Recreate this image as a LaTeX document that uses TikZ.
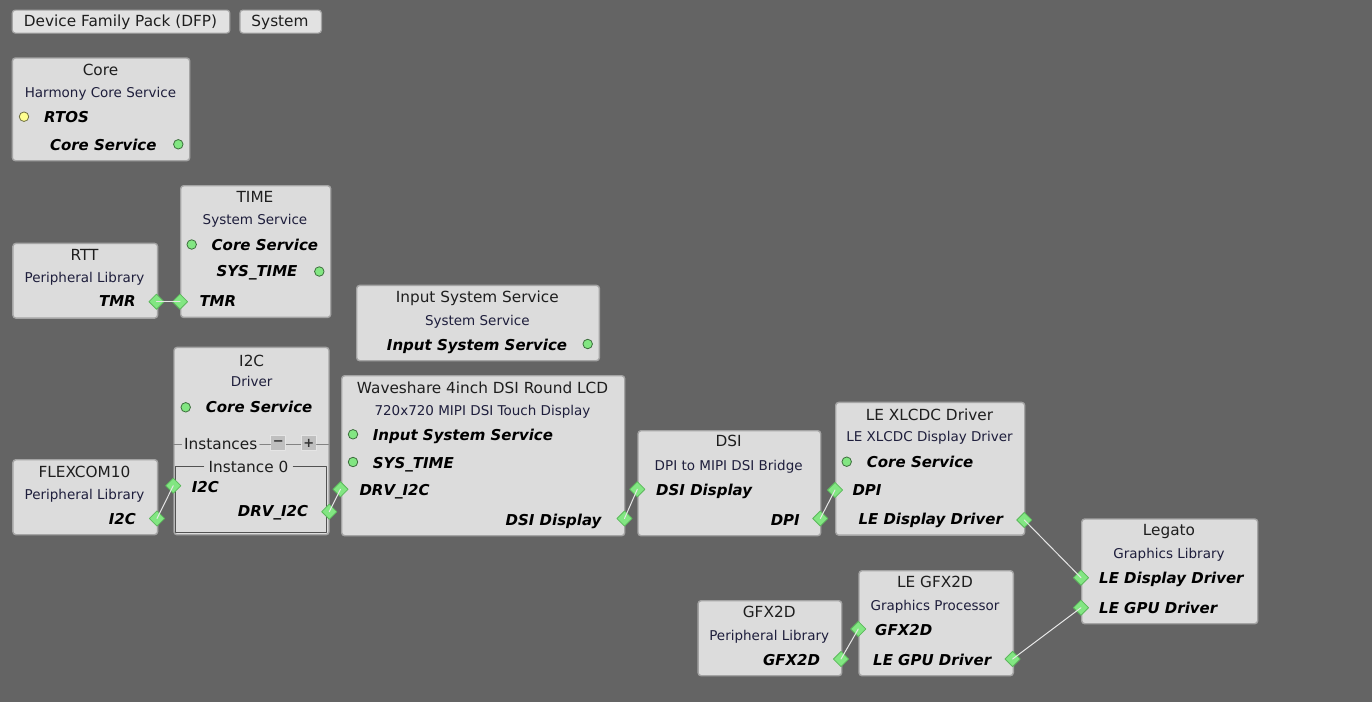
\documentclass[tikz,border=0pt]{standalone}
\usepackage{fontspec}
\setmainfont{DejaVu Sans}[BoldFont={DejaVu Sans Bold},ItalicFont={DejaVu Sans Oblique},BoldItalicFont={DejaVu Sans Bold Oblique}]
\usetikzlibrary{shapes.geometric}
\definecolor{bgcol}{HTML}{646464}
\definecolor{boxfill}{HTML}{DCDCDC}
\definecolor{boxline}{HTML}{A4A4A4}
\definecolor{btnfill}{HTML}{E2E2E2}
\definecolor{portgreen}{HTML}{82E682}
\definecolor{portedge}{HTML}{5CB85C}
\definecolor{svcedge}{HTML}{3C6E3C}
\definecolor{reqyellow}{HTML}{FFFF90}
\definecolor{reqedge}{HTML}{707040}
\definecolor{linkcol}{HTML}{E6E6E6}
\definecolor{titlecol}{HTML}{1E1E1E}
\definecolor{subcol}{HTML}{1E1E3C}
\tikzset{
	comp/.style={draw=boxline,fill=boxfill,line width=1.4pt,rounded corners=3pt,anchor=north west,inner sep=0pt},
	btn/.style={draw=boxline,fill=btnfill,line width=1.2pt,rounded corners=3pt,anchor=north west,inner sep=0pt},
	ttl/.style={font=\fontsize{15.3}{18}\selectfont,text=titlecol,inner sep=0pt,anchor=base},
	sub/.style={font=\fontsize{13.5}{16}\selectfont,text=subcol,inner sep=0pt,anchor=base},
	lbl/.style={font=\fontsize{15}{18}\selectfont\bfseries\itshape,text=black,inner sep=0pt},
	dep/.style={diamond,fill=portgreen,draw=portedge,line width=0.8pt,inner sep=0pt,minimum size=15.5pt},
	svc/.style={circle,fill=portgreen,draw=svcedge,line width=0.8pt,inner sep=0pt,minimum size=9.5pt},
	req/.style={circle,fill=reqyellow,draw=reqedge,line width=0.8pt,inner sep=0pt,minimum size=9.5pt},
	link/.style={draw=linkcol,line width=1pt},
	sepline/.style={draw=boxline!80!black,line width=1pt},
	tinybtn/.style={draw=white!90!black,fill=boxline!70!white,line width=1pt,inner sep=0pt,minimum size=15pt,font=\fontsize{13}{13}\selectfont\bfseries,text=black!80}
}
\begin{document}
\begin{tikzpicture}[line cap=round,line join=round,x=1pt,y=-1pt]
	\fill[bgcol] (0,0) rectangle (1372,702);
	\useasboundingbox (0,0) rectangle (1372,702);
	% tool bar
	\node[btn,minimum width=217.5pt,minimum height=23pt] (dfp) at (11.7,9.5) {};
	\node[ttl] at (120.5,26.7) {Device Family Pack (DFP)};
	\node[btn,minimum width=81.5pt,minimum height=23pt] (sys) at (239.3,9.5) {};
	\node[ttl] at (280,26.7) {System};
	% Core
	\node[comp,minimum width=177.3pt,minimum height=102.7pt] (core) at (11.7,57.3) {};
	\node[ttl] (core-t) at (100.5,75) {Core};
	\node[sub] (core-s) at (100.5,97.5) {Harmony Core Service};
	\node[req] (core-rtos-p) at (24,116.7) {};
	\node[lbl,anchor=base west] (core-rtos) at (44,122.3) {RTOS};
	\node[lbl,anchor=base east] (core-cs) at (156.7,150) {Core Service};
	\node[svc] (core-cs-p) at (178.3,144.3) {};
	% TIME
	\node[comp,minimum width=150pt,minimum height=131.7pt] (time) at (180,185) {};
	\node[ttl] (time-t) at (255,202.5) {TIME};
	\node[sub] (time-s) at (255,224.5) {System Service};
	\node[svc] (time-cs-p) at (191.7,244.5) {};
	\node[lbl,anchor=base west] (time-cs) at (211.5,250) {Core Service};
	\node[lbl,anchor=base east] (time-st) at (297.7,276.7) {SYS\_TIME};
	\node[svc] (time-st-p) at (319.3,271.5) {};
	\node[lbl,anchor=base west] (time-tmr) at (199.3,306.7) {TMR};
	% RTT
	\node[comp,minimum width=144.7pt,minimum height=74.7pt] (rtt) at (12.2,242.7) {};
	\node[ttl] (rtt-t) at (84.5,260) {RTT};
	\node[sub] (rtt-s) at (84.5,282.3) {Peripheral Library};
	\node[lbl,anchor=base east] (rtt-tmr) at (136,306.7) {TMR};
	% Input System Service
	\node[comp,minimum width=242.7pt,minimum height=75.3pt] (inp) at (356,284.7) {};
	\node[ttl] (inp-t) at (477.3,302.7) {Input System Service};
	\node[sub] (inp-s) at (477.3,325) {System Service};
	\node[lbl,anchor=base east] (inp-is) at (567.3,350) {Input System Service};
	\node[svc] (inp-is-p) at (587.7,344) {};
	% I2C driver
	\node[comp,minimum width=155pt,minimum height=187.3pt] (i2c) at (173.3,346.7) {};
	\node[ttl] (i2c-t) at (251.7,366) {I2C};
	\node[sub] (i2c-s) at (251.7,386.7) {Driver};
	\node[svc] (i2c-cs-p) at (185.7,407.3) {};
	\node[lbl,anchor=base west] (i2c-cs) at (205.7,412.7) {Core Service};
	\node[ttl,anchor=base west,inner xsep=2.5pt] (i2c-inst) at (181.5,449) {Instances};
	\node[tinybtn] (i2c-minus) at (278.3,443) {−};
	\node[tinybtn] (i2c-plus) at (308.7,443) {+};
	\draw[sepline] (173.3,444) -- (i2c-inst.west |- 0,444);
	\draw[sepline] (i2c-inst.east |- 0,444) -- (i2c-minus.west |- 0,444);
	\draw[sepline] (i2c-minus.east |- 0,444) -- (i2c-plus.west |- 0,444);
	\draw[sepline] (i2c-plus.east |- 0,444) -- (328.3,444);
	\node[ttl,inner xsep=5pt] (i2c-i0) at (248.5,472.3) {Instance 0};
	\draw[draw=black!68,line width=1.3pt] (i2c-i0.west |- 0,466.7) -- (175.7,466.7) -- (175.7,532.7) -- (326.7,532.7) -- (326.7,466.7) -- (i2c-i0.east |- 0,466.7);
	\node[lbl,anchor=base west] (i2c-i2c) at (191.7,492.3) {I2C};
	\node[lbl,anchor=base east] (i2c-drv) at (308.3,516.7) {DRV\_I2C};
	% FLEXCOM10
	\node[comp,minimum width=144.7pt,minimum height=75pt] (flx) at (12.2,459) {};
	\node[ttl] (flx-t) at (84.5,477) {FLEXCOM10};
	\node[sub] (flx-s) at (84.5,499.5) {Peripheral Library};
	\node[lbl,anchor=base east] (flx-i2c) at (136,524) {I2C};
	% Waveshare display
	\node[comp,minimum width=283pt,minimum height=160pt] (lcd) at (341,375) {};
	\node[ttl] (lcd-t) at (482.5,393.3) {Waveshare 4inch DSI Round LCD};
	\node[sub] (lcd-s) at (482.5,415) {720x720 MIPI DSI Touch Display};
	\node[svc] (lcd-is-p) at (353,434.3) {};
	\node[lbl,anchor=base west] (lcd-is) at (372.7,440.7) {Input System Service};
	\node[svc] (lcd-st-p) at (353,462) {};
	\node[lbl,anchor=base west] (lcd-st) at (372.7,468.3) {SYS\_TIME};
	\node[lbl,anchor=base west] (lcd-drv) at (359.3,495) {DRV\_I2C};
	\node[lbl,anchor=base east] (lcd-dsi) at (601.7,525) {DSI Display};
	% DSI bridge
	\node[comp,minimum width=182.7pt,minimum height=105pt] (dsi) at (637.3,430) {};
	\node[ttl] (dsi-t) at (728.7,446.7) {DSI};
	\node[sub] (dsi-s) at (728.7,470) {DPI to MIPI DSI Bridge};
	\node[lbl,anchor=base west] (dsi-dsi) at (656,495) {DSI Display};
	\node[lbl,anchor=base east] (dsi-dpi) at (800,525) {DPI};
	% LE XLCDC Driver
	\node[comp,minimum width=189pt,minimum height=132.7pt] (xl) at (835,401.7) {};
	\node[ttl] (xl-t) at (929.5,420) {LE XLCDC Driver};
	\node[sub] (xl-s) at (929.5,441.7) {LE XLCDC Display Driver};
	\node[svc] (xl-cs-p) at (846.7,461.7) {};
	\node[lbl,anchor=base west] (xl-cs) at (866.7,467.3) {Core Service};
	\node[lbl,anchor=base west] (xl-dpi) at (852.3,495) {DPI};
	\node[lbl,anchor=base west] (xl-led) at (858.3,524.3) {LE Display Driver};
	% Legato
	\node[comp,minimum width=176pt,minimum height=104.7pt] (leg) at (1081,518.3) {};
	\node[ttl] (leg-t) at (1169,535.7) {Legato};
	\node[sub] (leg-s) at (1169,558.3) {Graphics Library};
	\node[lbl,anchor=base west] (leg-led) at (1099,583.3) {LE Display Driver};
	\node[lbl,anchor=base west] (leg-gpu) at (1099,613.3) {LE GPU Driver};
	% LE GFX2D
	\node[comp,minimum width=154.3pt,minimum height=105pt] (lgx) at (858.3,570) {};
	\node[ttl] (lgx-t) at (935,587.7) {LE GFX2D};
	\node[sub] (lgx-s) at (935,610) {Graphics Processor};
	\node[lbl,anchor=base west] (lgx-gfx) at (875,635) {GFX2D};
	\node[lbl,anchor=base west] (lgx-gpu) at (873,665) {LE GPU Driver};
	% GFX2D
	\node[comp,minimum width=143.6pt,minimum height=75pt] (gfx) at (697.4,600) {};
	\node[ttl] (gfx-t) at (769.2,617.7) {GFX2D};
	\node[sub] (gfx-s) at (769.2,640) {Peripheral Library};
	\node[lbl,anchor=base east] (gfx-gfx) at (820.2,665) {GFX2D};
	% dependency ports
	\node[dep] (rtt-tmr-p) at (156.5,301.7) {};
	\node[dep] (time-tmr-p) at (180,301.7) {};
	\node[dep] (flx-i2c-p) at (157,518.5) {};
	\node[dep] (i2c-i2c-p) at (173.3,485.7) {};
	\node[dep] (i2c-drv-p) at (329.3,511.7) {};
	\node[dep] (lcd-drv-p) at (340.5,489.3) {};
	\node[dep] (lcd-dsi-p) at (624.5,518.5) {};
	\node[dep] (dsi-dsi-p) at (637.3,489.3) {};
	\node[dep] (dsi-dpi-p) at (820.3,518.5) {};
	\node[dep] (xl-dpi-p) at (835,490) {};
	\node[dep] (xl-led-p) at (1024.3,520) {};
	\node[dep] (leg-led-p) at (1081,577.7) {};
	\node[dep] (leg-gpu-p) at (1081,607.7) {};
	\node[dep] (lgx-gfx-p) at (858.3,629) {};
	\node[dep] (lgx-gpu-p) at (1012.6,659) {};
	\node[dep] (gfx-gfx-p) at (841,659) {};
	% connections
	\draw[link] (rtt-tmr-p.center) -- (time-tmr-p.center);
	\draw[link] (flx-i2c-p.center) -- (i2c-i2c-p.center);
	\draw[link] (i2c-drv-p.center) -- (lcd-drv-p.center);
	\draw[link] (lcd-dsi-p.center) -- (dsi-dsi-p.center);
	\draw[link] (dsi-dpi-p.center) -- (xl-dpi-p.center);
	\draw[link] (xl-led-p.center) -- (leg-led-p.center);
	\draw[link] (gfx-gfx-p.center) -- (lgx-gfx-p.center);
	\draw[link] (lgx-gpu-p.center) -- (leg-gpu-p.center);
\end{tikzpicture}
\end{document}
